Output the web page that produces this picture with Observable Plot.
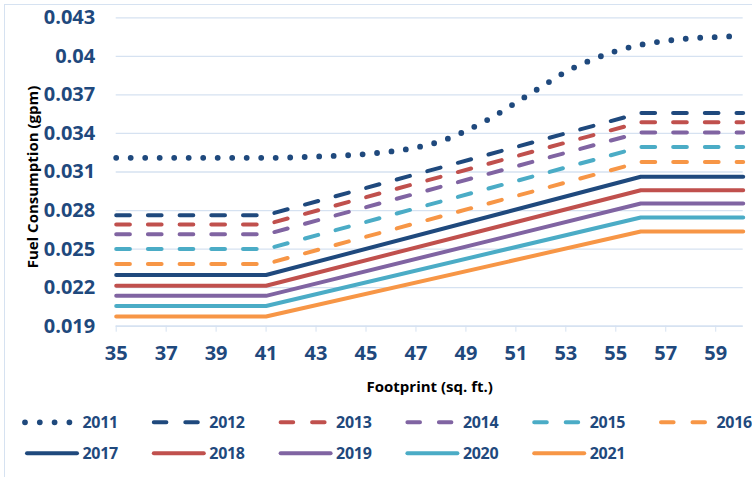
<!DOCTYPE html>
<html>
<head>
<meta charset="utf-8">
<script src="https://cdn.jsdelivr.net/npm/d3@7"></script>
<script src="https://cdn.jsdelivr.net/npm/@observablehq/plot@0.6"></script>
<style>
  html, body { margin: 0; padding: 0; background: #fff; }
  #wrap { position: relative; width: 752px; height: 477px; overflow: hidden; }
  #border { position: absolute; left: 4px; top: 4px; width: 800px; height: 520px;
            border-left: 1.5px solid #D6E2F1; border-top: 1.5px solid #D6E2F1; pointer-events: none; }
  svg { display: block; }
</style>
</head>
<body>
<div id="wrap"><div id="border"></div><div id="chart"></div><div id="legend"></div></div>
<script>
// ---- data ----
const years = [2011, 2012, 2013, 2014, 2015, 2016, 2017, 2018, 2019, 2020, 2021];
// 2011 curve (logistic-shaped), footprint vs gpm
const curve2011X = [35, 41, 43, 45, 46, 47, 48, 49, 50, 51, 52, 53, 54, 55, 56, 57, 58, 59, 60.1];
const curve2011Y = [0.0321, 0.0321, 0.0322, 0.0324, 0.0326, 0.0329, 0.0334, 0.0342, 0.0352, 0.0364,
                    0.0376, 0.0388, 0.0397, 0.0404, 0.0409, 0.0412, 0.0414, 0.0415, 0.0416];
// 2012-2021 piecewise: flat, linear, flat
const breakX = [35, 41, 56, 60.1];
const lowGpm  = [0.02764, 0.02692, 0.02615, 0.02500, 0.02385, 0.02298, 0.02215, 0.02136, 0.02057, 0.01975];
const highGpm = [0.03560, 0.03488, 0.03408, 0.03294, 0.03177, 0.03063, 0.02958, 0.02855, 0.02746, 0.02637];
const xTicks = [35, 37, 39, 41, 43, 45, 47, 49, 51, 53, 55, 57, 59];
const yTicks = [0.019, 0.022, 0.025, 0.028, 0.031, 0.034, 0.037, 0.04, 0.043];
const yTickLabels = ["0.019", "0.022", "0.025", "0.028", "0.031", "0.034", "0.037", "0.04", "0.043"];

// ---- styles ----
const navy = "#1F497D", red = "#C0504D", purple = "#8064A2", teal = "#4BACC6", orange = "#F79646";
const colors = [navy, navy, red, purple, teal, orange, navy, red, purple, teal, orange];
const kinds  = ["dot", "dash", "dash", "dash", "dash", "dash", "solid", "solid", "solid", "solid", "solid"];
const gridColor = "#D6E2F1";
const font = "'Open Sans', 'Liberation Sans', Arial, sans-serif";

// ---- table ----
const rows = [];
curve2011X.forEach((x, i) => rows.push({year: 2011, x, y: curve2011Y[i]}));
years.slice(1).forEach((yr, k) => {
  const vals = [lowGpm[k], lowGpm[k], highGpm[k], highGpm[k]];
  breakX.forEach((x, j) => rows.push({year: yr, x, y: vals[j]}));
});

function styleFor(kind) {
  if (kind === "dot") return {strokeWidth: 5.8, strokeDasharray: "0 14.5", strokeLinecap: "round"};
  if (kind === "dash") return {strokeWidth: 4, strokeDasharray: "13.7 18", strokeLinecap: "round"};
  return {strokeWidth: 4, strokeLinecap: "round"};
}

const lineMarks = years.slice().reverse().map(yr => {
  const i = years.indexOf(yr);
  return Plot.line(rows.filter(d => d.year === yr), {
    x: "x", y: "y", stroke: colors[i],
    curve: yr === 2011 ? "monotone-x" : "linear",
    ...styleFor(kinds[i])
  });
});

const chart = Plot.plot({
  width: 752, height: 400,
  marginTop: 17.3, marginBottom: 74.3, marginLeft: 115.7, marginRight: 9.3,
  style: {fontFamily: font, fontSize: "20px", fontWeight: 700, color: navy, background: "transparent"},
  x: {domain: [35, 60.1]},
  y: {domain: [0.019, 0.043]},
  marks: [
    Plot.gridY(yTicks, {stroke: gridColor, strokeOpacity: 1, strokeWidth: 1.3}),
    Plot.ruleY([0.019], {stroke: gridColor, strokeWidth: 1.5}),
    Plot.axisX({ticks: xTicks, tickSize: 6, tickPadding: 14, stroke: gridColor, strokeOpacity: 1,
                label: null, tickFormat: d => String(d)}),
    Plot.axisY({ticks: yTicks, tickSize: 0, tickPadding: 21, label: null,
                tickFormat: d => yTickLabels[yTicks.indexOf(d)]}),
    ...lineMarks,
    Plot.text(["Footprint (sq. ft.)"], {frameAnchor: "bottom", dy: 60.5, lineAnchor: "middle",
              fill: "#000", fontSize: 15, fontWeight: 700}),
    Plot.text(["Fuel Consumption (gpm)"], {frameAnchor: "left", dx: -83, dy: 5, rotate: -90,
              lineAnchor: "middle", textAnchor: "middle", fill: "#000", fontSize: 15, fontWeight: 700})
  ]
});
document.getElementById("chart").appendChild(chart);

// ---- legend below ----
const lg = d3.select("#legend").append("svg").attr("width", 752).attr("height", 77)
  .style("font-family", font).style("font-weight", 700).style("font-size", "16px")
  .style("letter-spacing", "-0.3px");
years.forEach((yr, i) => {
  const col = i < 6 ? i : i - 6, row = i < 6 ? 0 : 1;
  const L = 25 + col * 126.8, cy = row === 0 ? 22.3 : 53.3;
  const g = lg.append("g");
  const st = styleFor(kinds[i]);
  let x1 = L + 2, x2 = L + 52;
  if (kinds[i] === "dot") { x1 = L; x2 = L + 45; st.strokeDasharray = "0 14.8"; }
  if (kinds[i] === "dash") { x1 = L + 2; x2 = L + 46; st.strokeDasharray = "12.6 18.9"; }
  g.append("line").attr("x1", x1).attr("x2", x2).attr("y1", cy).attr("y2", cy)
    .attr("stroke", colors[i]).attr("stroke-width", st.strokeWidth)
    .attr("stroke-linecap", "round")
    .attr("stroke-dasharray", st.strokeDasharray || null);
  g.append("text").attr("x", L + 57.5).attr("y", cy).attr("dy", "0.36em")
    .attr("fill", navy).text(String(yr));
});
</script>
</body>
</html>
